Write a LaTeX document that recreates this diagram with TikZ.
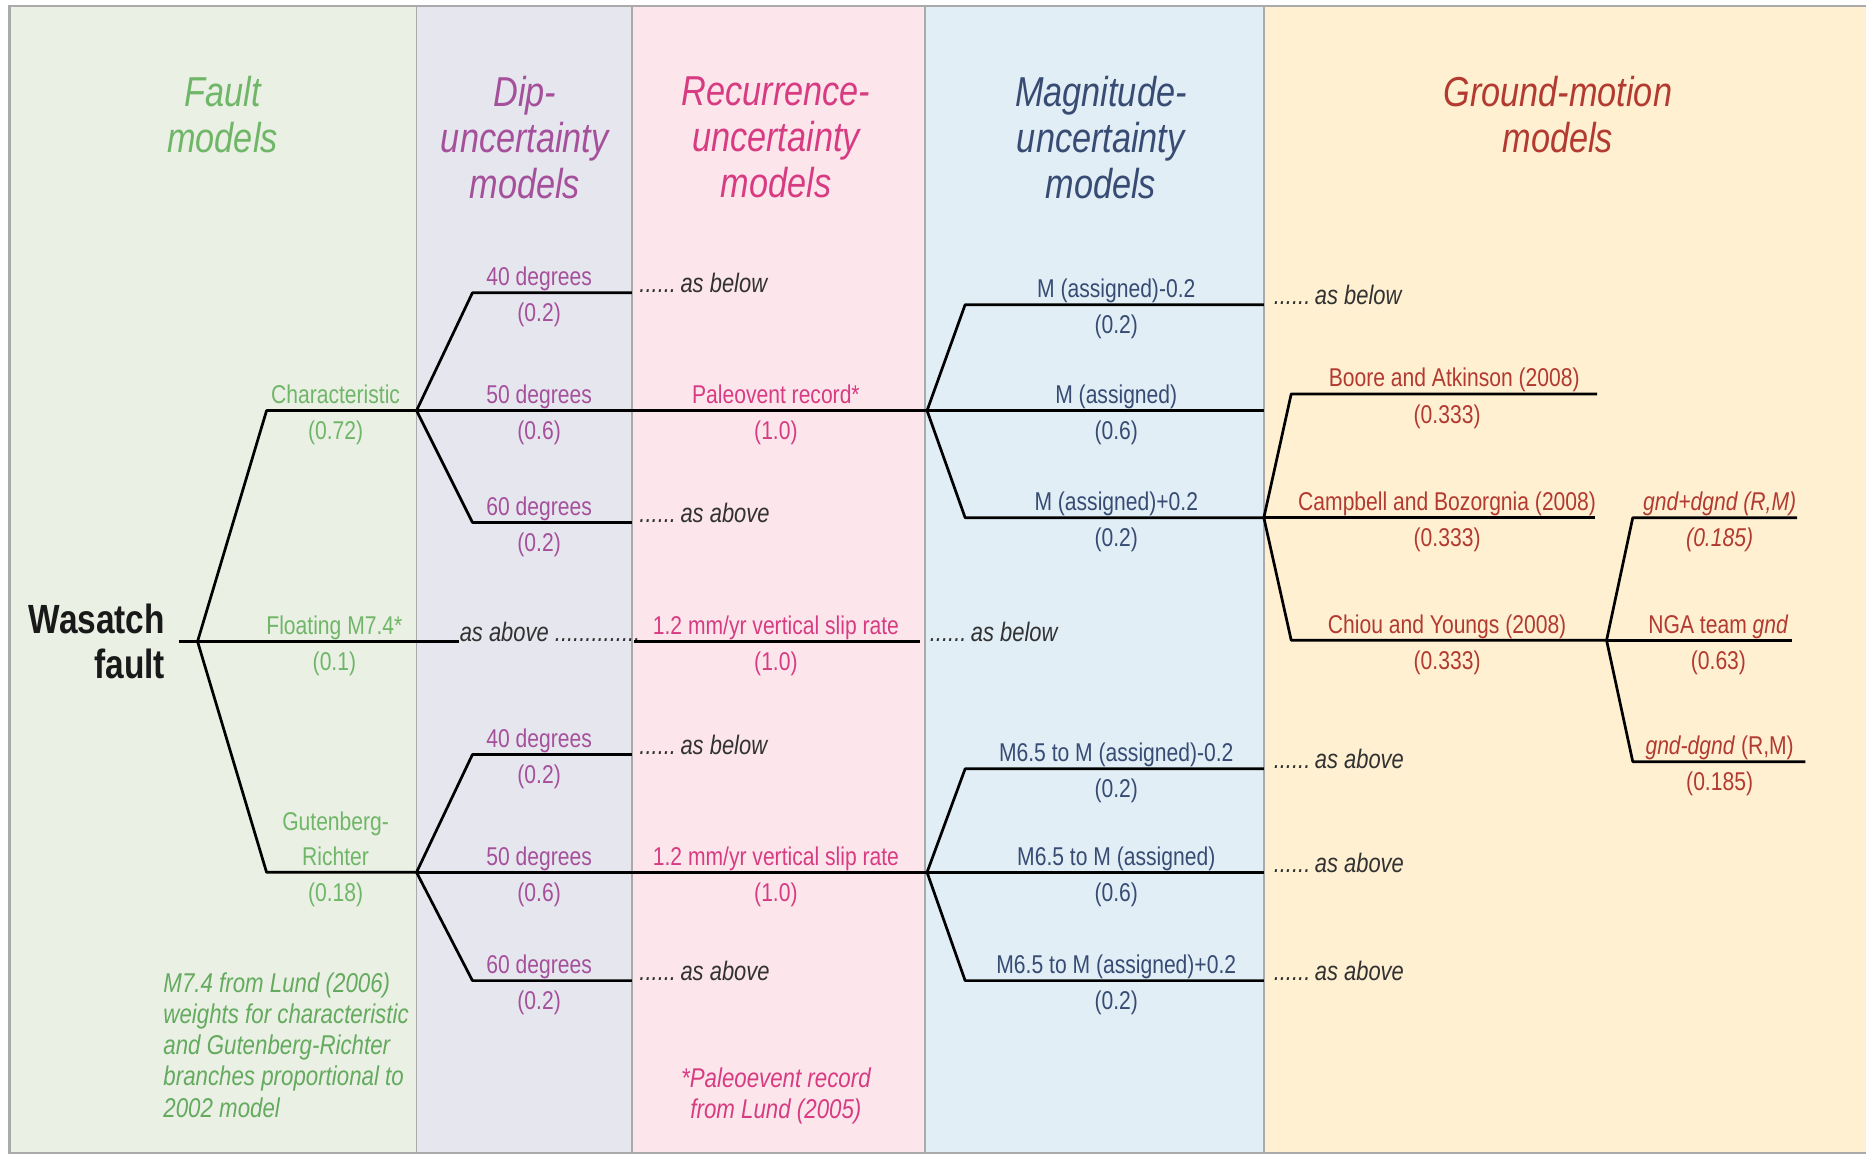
\documentclass[tikz,border=0pt]{standalone}
\usepackage{fontspec}
\setmainfont{Liberation Sans}[FakeStretch=0.82]

\definecolor{faultbg}{RGB}{234,240,228}
\definecolor{dipbg}{RGB}{230,230,238}
\definecolor{recbg}{RGB}{252,230,236}
\definecolor{magbg}{RGB}{225,238,246}
\definecolor{gmbg}{RGB}{255,240,210}
\definecolor{faulttx}{RGB}{112,182,104}
\definecolor{faultnote}{RGB}{100,170,95}
\definecolor{diptx}{RGB}{165,80,155}
\definecolor{rectx}{RGB}{215,60,130}
\definecolor{magtx}{RGB}{55,75,115}
\definecolor{gmtx}{RGB}{178,58,48}
\definecolor{notetx}{RGB}{50,50,50}
\definecolor{rulegray}{RGB}{170,170,170}

\begin{document}
\begin{tikzpicture}[x=0.02cm, y=-0.02cm,
    branch/.style={line width=1.3pt, line join=round},
    lbl/.style={font=\fontsize{12.3}{17}\selectfont, inner sep=0pt, anchor=base},
    up/.style={lbl, yshift=0.12cm},
    dn/.style={lbl, yshift=-0.49cm},
    seealso/.style={font=\fontsize{12.8}{15}\selectfont\itshape, text=notetx, inner sep=0pt, anchor=base west},
    heading/.style={font=\fontsize{20}{22}\selectfont\itshape, align=center, inner sep=0pt, anchor=north}]
  \useasboundingbox (0,0) rectangle (1568,971);

  % column backgrounds
  \fill[faultbg] (8,5) rectangle (350,969);
  \fill[dipbg] (350,5) rectangle (531,969);
  \fill[recbg] (531,5) rectangle (777,969);
  \fill[magbg] (777,5) rectangle (1062,969);
  \fill[gmbg] (1062,5) rectangle (1568,969);
  \foreach \xs in {350,531,777,1062}
    \draw[rulegray, line width=0.8pt] (\xs,5) -- (\xs,969);
  \draw[rulegray, line width=1.2pt] (1568,5) -- (8,5) -- (8,969) -- (1568,969);

  % headings
  \node[heading, text=faulttx] (hFault) at (187,64) {Fault\\models};
  \node[heading, text=diptx] (hDip) at (441,64) {Dip-\\uncertainty\\models};
  \node[heading, text=rectx] (hRec) at (652,64) {Recurrence-\\uncertainty\\models};
  \node[heading, text=magtx] (hMag) at (925,64) {Magnitude-\\uncertainty\\models};
  \node[heading, text=gmtx] (hGM) at (1309,64) {Ground-motion\\models};

  % Panel 1: fault models
  \node[font=\fontsize{19.5}{21.6}\selectfont\bfseries, text=black!90, align=right, anchor=north east, inner sep=0pt] (wasatch) at (139,507) {Wasatch\\fault};
  \coordinate (stub) at (150,539);
  \coordinate (root) at (166,539);
  \coordinate (charK) at (224,345);
  \coordinate (charF) at (350,345);
  \coordinate (grK) at (224,733);
  \coordinate (grF) at (350,733);
  \coordinate (floatE) at (386,539);
  \draw[branch] (stub) -- (root) -- (floatE);
  \draw[branch] (root) -- (charK) -- (charF);
  \draw[branch] (root) -- (grK) -- (grF);
  \node[up, text=faulttx] (lChar) at (282,345) {Characteristic};
  \node[dn, text=faulttx] (wChar) at (282,345) {(0.72)};
  \node[up, text=faulttx] (lFloat) at (281,539) {Floating M7.4*};
  \node[dn, text=faulttx] (wFloat) at (281,539) {(0.1)};
  \node[lbl, text=faulttx, align=center, anchor=south, yshift=0.10cm] (lGR) at (282,733) {Gutenberg-\\Richter};
  \node[dn, text=faulttx] (wGR) at (282,733) {(0.18)};
  \node[font=\fontsize{13}{14.9}\selectfont\itshape, text=faultnote, align=left, anchor=north west, inner sep=0pt] (noteLund) at (137,817)
    {M7.4 from Lund (2006)\\weights for characteristic\\and Gutenberg-Richter\\branches proportional to\\2002 model};

  % Panel 2: dip, characteristic branch
  \coordinate (dipA1) at (397,246);
  \coordinate (dipB1) at (531,246);
  \coordinate (dipA3) at (397,439);
  \coordinate (dipB3) at (531,439);
  \coordinate (magU) at (779,345);
  \draw[branch] (charF) -- (dipA1) -- (dipB1);
  \draw[branch] (charF) -- (magU);
  \draw[branch] (charF) -- (dipA3) -- (dipB3);
  \node[up, text=diptx] (lD40u) at (453,246) {40 degrees};
  \node[dn, text=diptx] (wD40u) at (453,246) {(0.2)};
  \node[up, text=diptx] (lD50u) at (453,345) {50 degrees};
  \node[dn, text=diptx] (wD50u) at (453,345) {(0.6)};
  \node[up, text=diptx] (lD60u) at (453,439) {60 degrees};
  \node[dn, text=diptx] (wD60u) at (453,439) {(0.2)};
  \node[seealso] (seeD40u) at (537,246) {......\,as below};
  \node[seealso] (seeD60u) at (537,439) {......\,as above};

  % Panel 2: dip, floating branch
  \node[seealso] (seeFloat) at (386,539) {as above ..............};

  % Panel 2: dip, Gutenberg-Richter branch
  \coordinate (dipA4) at (397,634);
  \coordinate (dipB4) at (531,634);
  \coordinate (dipA6) at (397,824);
  \coordinate (dipB6) at (531,824);
  \coordinate (magL) at (779,733);
  \draw[branch] (grF) -- (dipA4) -- (dipB4);
  \draw[branch] (grF) -- (magL);
  \draw[branch] (grF) -- (dipA6) -- (dipB6);
  \node[up, text=diptx] (lD40l) at (453,634) {40 degrees};
  \node[dn, text=diptx] (wD40l) at (453,634) {(0.2)};
  \node[up, text=diptx] (lD50l) at (453,733) {50 degrees};
  \node[dn, text=diptx] (wD50l) at (453,733) {(0.6)};
  \node[up, text=diptx] (lD60l) at (453,824) {60 degrees};
  \node[dn, text=diptx] (wD60l) at (453,824) {(0.2)};
  \node[seealso] (seeD40l) at (537,634) {......\,as below};
  \node[seealso] (seeD60l) at (537,824) {......\,as above};

  % Panel 3: recurrence
  \coordinate (slipA) at (533,539);
  \coordinate (slipB) at (773,539);
  \draw[branch] (slipA) -- (slipB);
  \node[up, text=rectx] (lPaleo) at (652,345) {Paleovent record*};
  \node[dn, text=rectx] (wPaleo) at (652,345) {(1.0)};
  \node[up, text=rectx] (lSlipF) at (652,539) {1.2 mm/yr vertical slip rate};
  \node[dn, text=rectx] (wSlipF) at (652,539) {(1.0)};
  \node[up, text=rectx] (lSlipG) at (652,733) {1.2 mm/yr vertical slip rate};
  \node[dn, text=rectx] (wSlipG) at (652,733) {(1.0)};
  \node[seealso] (seeSlipF) at (781,539) {......\,as below};
  \node[font=\fontsize{13}{14.9}\selectfont\itshape, text=rectx, align=center, anchor=north, inner sep=0pt] (notePaleo) at (652,897)
    {*Paleoevent record\\from Lund (2005)};

  % Panel 4: magnitude, characteristic branch
  \coordinate (magA1) at (811,256);
  \coordinate (magB1) at (1062,256);
  \coordinate (magB2) at (1062,345);
  \coordinate (magA3) at (811,435);
  \coordinate (gmU) at (1062,435);
  \draw[branch] (magU) -- (magA1) -- (magB1);
  \draw[branch] (magU) -- (magB2);
  \draw[branch] (magU) -- (magA3) -- (gmU);
  \node[up, text=magtx] (lMm) at (938,256) {M (assigned)-0.2};
  \node[dn, text=magtx] (wMm) at (938,256) {(0.2)};
  \node[up, text=magtx] (lM0) at (938,345) {M (assigned)};
  \node[dn, text=magtx] (wM0) at (938,345) {(0.6)};
  \node[up, text=magtx] (lMp) at (938,435) {M (assigned)+0.2};
  \node[dn, text=magtx] (wMp) at (938,435) {(0.2)};
  \node[seealso] (seeMm) at (1070,256) {......\,as below};

  % Panel 4: magnitude, Gutenberg-Richter branch
  \coordinate (magA4) at (811,646);
  \coordinate (magB4) at (1062,646);
  \coordinate (magB5) at (1062,733);
  \coordinate (magA6) at (811,824);
  \coordinate (magB6) at (1062,824);
  \draw[branch] (magL) -- (magA4) -- (magB4);
  \draw[branch] (magL) -- (magB5);
  \draw[branch] (magL) -- (magA6) -- (magB6);
  \node[up, text=magtx] (lGm) at (938,646) {M6.5 to M (assigned)-0.2};
  \node[dn, text=magtx] (wGm) at (938,646) {(0.2)};
  \node[up, text=magtx] (lG0) at (938,733) {M6.5 to M (assigned)};
  \node[dn, text=magtx] (wG0) at (938,733) {(0.6)};
  \node[up, text=magtx] (lGp) at (938,824) {M6.5 to M (assigned)+0.2};
  \node[dn, text=magtx] (wGp) at (938,824) {(0.2)};
  \node[seealso] (seeGm) at (1070,646) {......\,as above};
  \node[seealso] (seeG0) at (1070,733) {......\,as above};
  \node[seealso] (seeGp) at (1070,824) {......\,as above};

  % Panel 5: ground motion
  \coordinate (gmA1) at (1085,331);
  \coordinate (gmB1) at (1342,331);
  \coordinate (gmB2) at (1340,435);
  \coordinate (gmA3) at (1085,538);
  \coordinate (gmF) at (1350,538);
  \draw[branch] (gmU) -- (gmA1) -- (gmB1);
  \draw[branch] (gmU) -- (gmB2);
  \draw[branch] (gmU) -- (gmA3) -- (gmF);
  \node[up, text=gmtx] (lBA) at (1222,331) {Boore and Atkinson (2008)};
  \node[dn, text=gmtx] (wBA) at (1216,331) {(0.333)};
  \node[up, text=gmtx] (lCB) at (1216,435) {Campbell and Bozorgnia (2008)};
  \node[dn, text=gmtx] (wCB) at (1216,435) {(0.333)};
  \node[up, text=gmtx] (lCY) at (1216,538) {Chiou and Youngs (2008)};
  \node[dn, text=gmtx] (wCY) at (1216,538) {(0.333)};

  % Panel 5: NGA epistemic spread
  \coordinate (ndA1) at (1372,435);
  \coordinate (ndB1) at (1510,435);
  \coordinate (ndB2) at (1506,538);
  \coordinate (ndA3) at (1372,640);
  \coordinate (ndB3) at (1517,640);
  \draw[branch] (gmF) -- (ndA1) -- (ndB1);
  \draw[branch] (gmF) -- (ndB2);
  \draw[branch] (gmF) -- (ndA3) -- (ndB3);
  \node[up, text=gmtx] (lNp) at (1445,435) {\itshape gnd+dgnd (R,M)};
  \node[dn, text=gmtx] (wNp) at (1445,435) {\itshape (0.185)};
  \node[up, text=gmtx] (lN0) at (1444,538) {NGA team \textit{gnd}};
  \node[dn, text=gmtx] (wN0) at (1444,538) {(0.63)};
  \node[up, text=gmtx] (lNm) at (1445,640) {\textit{gnd-dgnd} (R,M)};
  \node[dn, text=gmtx] (wNm) at (1445,640) {(0.185)};
\end{tikzpicture}
\end{document}
